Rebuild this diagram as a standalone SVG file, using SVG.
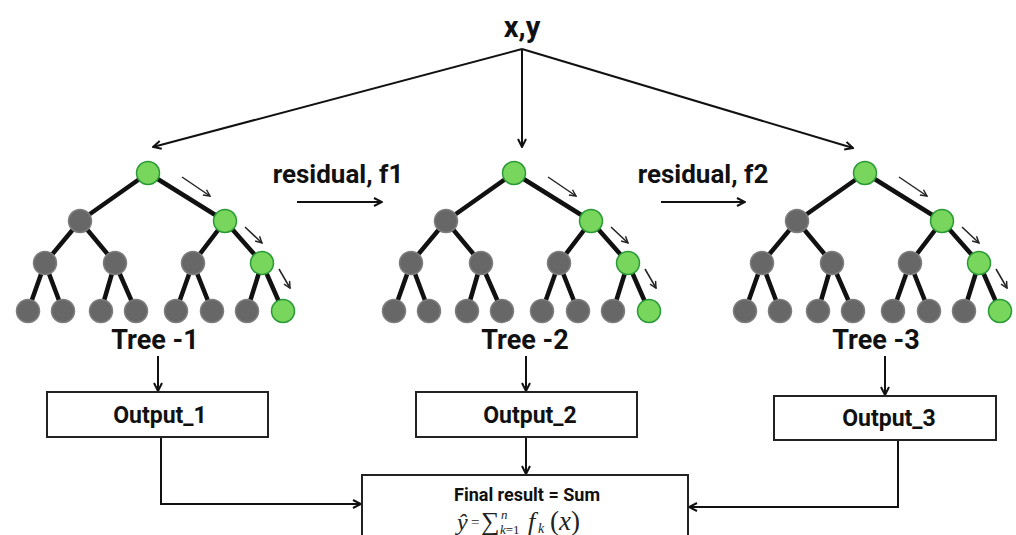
<svg xmlns="http://www.w3.org/2000/svg" width="1016" height="535" viewBox="0 0 1016 535">
<defs>
<style>
.lbl{font-family:Roboto,"Liberation Sans",sans-serif;font-weight:bold;fill:#111;text-anchor:middle}
.edge{stroke:#111;stroke-width:4.5;stroke-linecap:round}
.g{fill:#77d65b;stroke:#2a9a36;stroke-width:1.5}
.d{fill:#676767;stroke:#7d7d7d;stroke-width:1.5}
.conn{fill:none;stroke:#111;stroke-width:2}
.hint{fill:none;stroke:#222;stroke-width:1.5}
.box{fill:#fff;stroke:#222;stroke-width:2}
.math{font-family:"Liberation Serif","DejaVu Serif",serif;fill:#222}
</style>
<marker id="ah" viewBox="0 0 10 10" refX="9" refY="5" markerWidth="10" markerHeight="10" markerUnits="userSpaceOnUse" orient="auto">
<path d="M1,1 L9,5 L1,9" fill="none" stroke="#111" stroke-width="2"/>
</marker>
<marker id="sh" viewBox="0 0 10 10" refX="9" refY="5" markerWidth="8" markerHeight="8" markerUnits="userSpaceOnUse" orient="auto">
<path d="M1,1 L9,5 L1,9" fill="none" stroke="#222" stroke-width="1.8"/>
</marker>
<g id="tree">
<g class="edges">
<line class="edge" x1="0" y1="0" x2="-68" y2="48"/>
<line class="edge" x1="0" y1="0" x2="77" y2="48"/>
<line class="edge" x1="-68" y1="48" x2="-103" y2="90"/>
<line class="edge" x1="-68" y1="48" x2="-33" y2="90"/>
<line class="edge" x1="77" y1="48" x2="45" y2="90"/>
<line class="edge" x1="77" y1="48" x2="114" y2="90"/>
<line class="edge" x1="-103" y1="90" x2="-120" y2="138"/>
<line class="edge" x1="-103" y1="90" x2="-85" y2="138"/>
<line class="edge" x1="-33" y1="90" x2="-47" y2="138"/>
<line class="edge" x1="-33" y1="90" x2="-12" y2="138"/>
<line class="edge" x1="45" y1="90" x2="28" y2="138"/>
<line class="edge" x1="45" y1="90" x2="64" y2="138"/>
<line class="edge" x1="114" y1="90" x2="99" y2="138"/>
<line class="edge" x1="114" y1="90" x2="135" y2="138"/>
</g>
<circle class="g" cx="0" cy="0" r="11.5"/>
<circle class="d" cx="-68" cy="48" r="11.5"/>
<circle class="g" cx="77" cy="48" r="11.5"/>
<circle class="d" cx="-103" cy="90" r="11.5"/>
<circle class="d" cx="-33" cy="90" r="11.5"/>
<circle class="d" cx="45" cy="90" r="11.5"/>
<circle class="g" cx="114" cy="90" r="11.5"/>
<circle class="d" cx="-120" cy="138" r="11.5"/>
<circle class="d" cx="-85" cy="138" r="11.5"/>
<circle class="d" cx="-47" cy="138" r="11.5"/>
<circle class="d" cx="-12" cy="138" r="11.5"/>
<circle class="d" cx="28" cy="138" r="11.5"/>
<circle class="d" cx="64" cy="138" r="11.5"/>
<circle class="d" cx="99" cy="138" r="11.5"/>
<circle class="g" cx="135" cy="138" r="11.5"/>
<line class="hint" x1="34" y1="4" x2="62" y2="23" marker-end="url(#sh)"/>
<line class="hint" x1="97" y1="54" x2="114" y2="70" marker-end="url(#sh)"/>
<line class="hint" x1="131" y1="96" x2="142" y2="115" marker-end="url(#sh)"/>
</g>
</defs>
<rect width="1016" height="535" fill="#fff"/>

<g id="connectors">
<line class="conn" x1="522" y1="49" x2="153" y2="147" marker-end="url(#ah)"/>
<line class="conn" x1="522" y1="49" x2="522" y2="147" marker-end="url(#ah)"/>
<line class="conn" x1="522" y1="49" x2="853" y2="148" marker-end="url(#ah)"/>
<line class="conn" x1="297" y1="202" x2="382" y2="202" marker-end="url(#ah)"/>
<line class="conn" x1="661" y1="202" x2="745" y2="202" marker-end="url(#ah)"/>
<line class="conn" x1="158" y1="356" x2="158" y2="391" marker-end="url(#ah)"/>
<line class="conn" x1="526" y1="356" x2="526" y2="391" marker-end="url(#ah)"/>
<line class="conn" x1="885" y1="356" x2="885" y2="395" marker-end="url(#ah)"/>
<line class="conn" x1="526" y1="437" x2="526" y2="474" marker-end="url(#ah)"/>
<path class="conn" d="M161,437 V504 H361" marker-end="url(#ah)"/>
<path class="conn" d="M898,440 V507 H689" marker-end="url(#ah)"/>
</g>

<g id="input"><text class="lbl" x="522" y="37" font-size="29">x,y</text></g>

<g id="residual1"><text class="lbl" x="338" y="183" font-size="26">residual, f1</text></g>
<g id="residual2"><text class="lbl" x="703" y="183" font-size="26">residual, f2</text></g>

<g id="tree1">
<use href="#tree" x="148" y="173"/>
<text class="lbl" x="155" y="349" font-size="27">Tree -1</text>
</g>
<g id="tree2">
<use href="#tree" x="514" y="173"/>
<text class="lbl" x="525" y="349" font-size="27">Tree -2</text>
</g>
<g id="tree3">
<use href="#tree" x="865" y="173"/>
<text class="lbl" x="876" y="349" font-size="27">Tree -3</text>
</g>

<g id="output1">
<rect class="box" x="47" y="392" width="221" height="45"/>
<text class="lbl" x="160" y="423" font-size="23">Output_1</text>
</g>
<g id="output2">
<rect class="box" x="416" y="392" width="221" height="45"/>
<text class="lbl" x="530" y="423" font-size="23">Output_2</text>
</g>
<g id="output3">
<rect class="box" x="774" y="396" width="222" height="44"/>
<text class="lbl" x="889" y="426" font-size="23">Output_3</text>
</g>

<g id="final">
<rect class="box" x="362" y="475" width="326" height="80"/>
<text class="lbl" x="527" y="501" font-size="18">Final result = Sum</text>
<text class="math" x="457" y="530" font-size="24" font-style="italic">ŷ</text>
<text class="math" x="471" y="527" font-size="15" fill="#666">=</text>
<text class="math" x="481" y="530" font-size="26">∑</text>
<text class="math" x="501" y="519" font-size="13" font-style="italic">n</text>
<text class="math" x="500" y="534" font-size="13"><tspan font-style="italic">k</tspan>=1</text>
<text class="math" x="528" y="530" font-size="26" font-style="italic">f</text>
<text class="math" x="538" y="533" font-size="14" font-style="italic">k</text>
<text class="math" x="550" y="530" font-size="27">(<tspan font-style="italic">x</tspan>)</text>
</g>
</svg>
